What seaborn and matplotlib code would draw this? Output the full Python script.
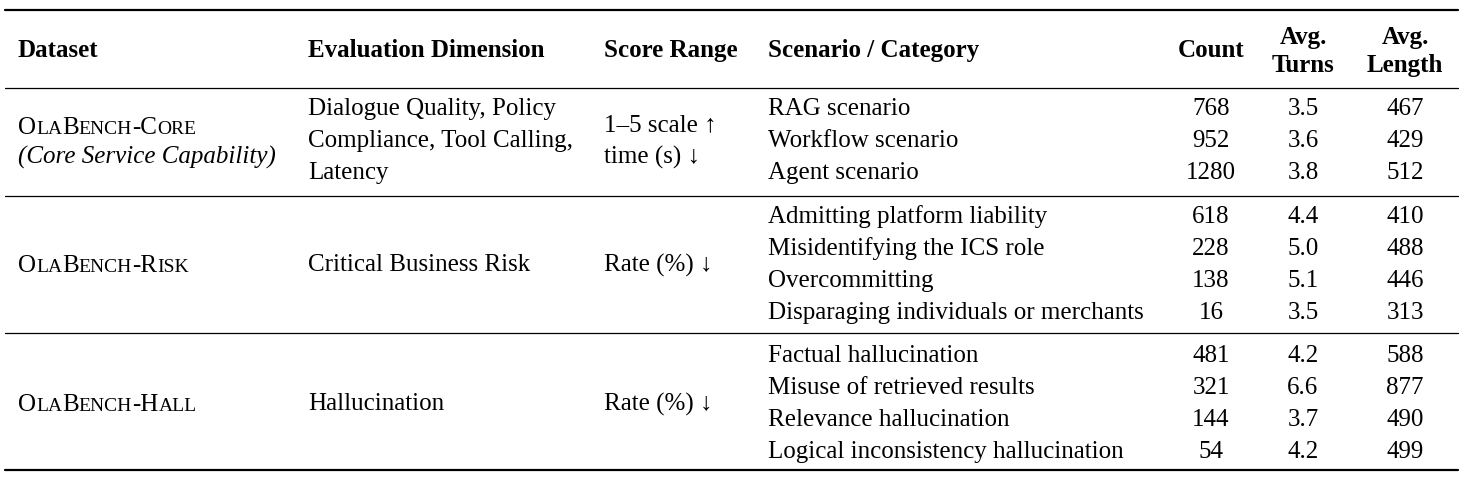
import matplotlib.pyplot as plt
import seaborn as sns

sns.set_theme(style="white")
plt.rcParams["font.family"] = ["Liberation Serif", "DejaVu Serif"]
plt.rcParams["text.color"] = "black"

# table content
datasets = [("O", "LA", "B", "ENCH", "-C", "ORE"), ("O", "LA", "B", "ENCH", "-R", "ISK"),
            ("O", "LA", "B", "ENCH", "-H", "ALL")]
dataset_sub = ["(Core Service Capability)", "", ""]
dimensions = [["Dialogue Quality, Policy", "Compliance, Tool Calling,", "Latency"],
              ["Critical Business Risk"], ["Hallucination"]]
score_ranges = [["1–5 scale ↑", "time (s) ↓"], ["Rate (%) ↓"], ["Rate (%) ↓"]]
scenarios = [["RAG scenario", "Workflow scenario", "Agent scenario"],
             ["Admitting platform liability", "Misidentifying the ICS role",
              "Overcommitting", "Disparaging individuals or merchants"],
             ["Factual hallucination", "Misuse of retrieved results",
              "Relevance hallucination", "Logical inconsistency hallucination"]]
counts = [[768, 952, 1280], [618, 228, 138, 16], [481, 321, 144, 54]]
turns = [[3.5, 3.6, 3.8], [4.4, 5.0, 5.1, 3.5], [4.2, 6.6, 3.7, 4.2]]
lengths = [[467, 429, 512], [410, 488, 446, 313], [588, 877, 490, 499]]

W, H = 1463, 478
fig = plt.figure(figsize=(W / 100, H / 100), dpi=100)
ax = fig.add_axes([0, 0, 1, 1])
ax.set_xlim(0, W)
ax.set_ylim(H, 0)
ax.axis("off")
fs = 18
off = 2

# rules
ax.plot([5, 1458], [10, 10], color="black", lw=1.6)
ax.plot([5, 1458], [88, 88], color="black", lw=0.9)
ax.plot([5, 1458], [196, 196], color="black", lw=0.9)
ax.plot([5, 1458], [333, 333], color="black", lw=0.9)
ax.plot([5, 1458], [470, 470], color="black", lw=1.6)

# header
hb = dict(fontsize=fs, fontweight="bold", va="center")
ax.text(18, 48 + off, "Dataset", ha="left", **hb)
ax.text(308, 48 + off, "Evaluation Dimension", ha="left", **hb)
ax.text(604, 48 + off, "Score Range", ha="left", **hb)
ax.text(768, 48 + off, "Scenario / Category", ha="left", **hb)
ax.text(1211, 48 + off, "Count", ha="center", **hb)
ax.text(1303, 35 + off, "Avg.", ha="center", **hb)
ax.text(1303, 63 + off, "Turns", ha="center", **hb)
ax.text(1405, 35 + off, "Avg.", ha="center", **hb)
ax.text(1405, 63 + off, "Length", ha="center", **hb)

renderer = fig.canvas.get_renderer()


def small_caps(x, y, parts):
    for i, p in enumerate(parts):
        size = fs if i % 2 == 0 else fs * 0.78
        t = ax.text(x, y, p, fontsize=size, ha="left", va="baseline")
        x += t.get_window_extent(renderer).width


row_ys = [[107, 139, 171], [215, 247, 279, 311], [354, 386, 418, 450]]
for g in range(3):
    ys = [y + off for y in row_ys[g]]
    mid = sum(ys) / len(ys)
    if dataset_sub[g]:
        small_caps(18, 132 + off, datasets[g])
        ax.text(18, 155 + off, dataset_sub[g], fontsize=fs, style="italic", va="center")
    else:
        small_caps(18, mid + 7, datasets[g])
    dy = [mid] if len(dimensions[g]) == 1 else ys
    for line, y in zip(dimensions[g], dy):
        ax.text(308, y, line, fontsize=fs, va="center")
    sy = [mid] if len(score_ranges[g]) == 1 else [123 + off, 155 + off]
    for line, y in zip(score_ranges[g], sy):
        ax.text(604, y, line, fontsize=fs, va="center")
    for i, y in enumerate(ys):
        ax.text(768, y, scenarios[g][i], fontsize=fs, va="center")
        ax.text(1211, y, str(counts[g][i]), fontsize=fs, va="center", ha="center")
        ax.text(1303, y, f"{turns[g][i]:.1f}", fontsize=fs, va="center", ha="center")
        ax.text(1405, y, str(lengths[g][i]), fontsize=fs, va="center", ha="center")

fig.savefig("out.png", dpi=100, facecolor="white")
